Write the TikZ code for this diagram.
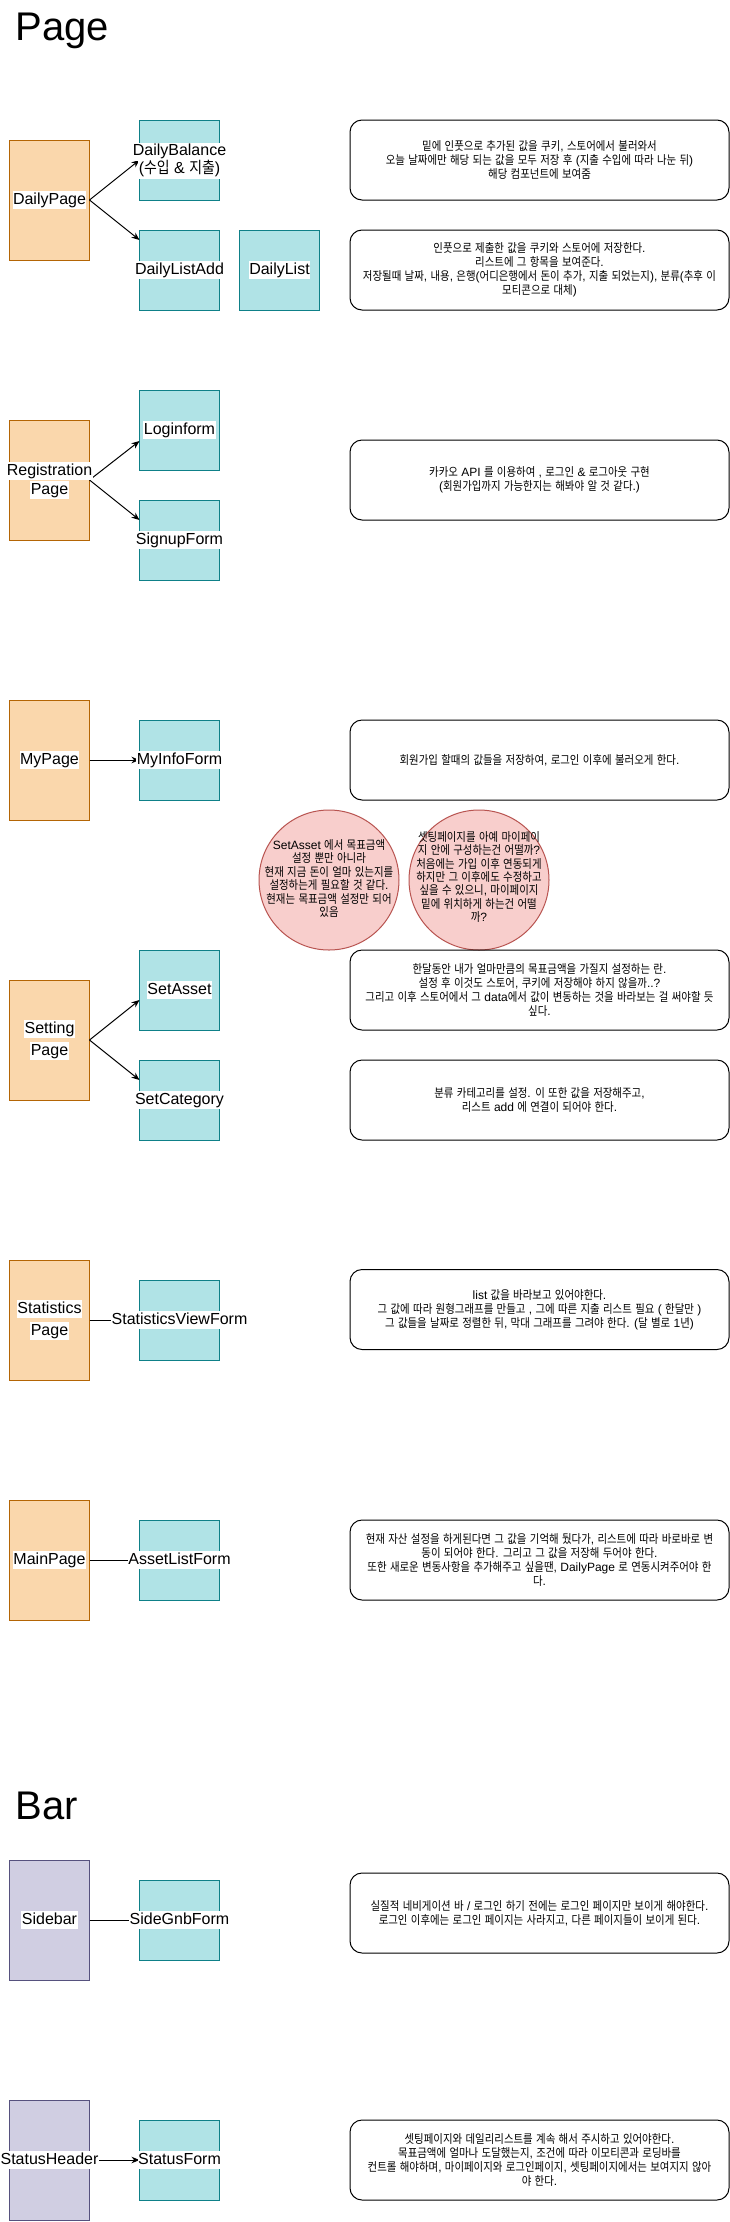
\documentclass[tikz,border=0pt]{standalone}
\usepackage{fontspec}
\setmainfont{Liberation Sans}
\newfontfamily\kr[FakeStretch=0.87]{Noto Sans CJK KR}
\usetikzlibrary{arrows.meta,shapes.geometric}
\XeTeXinterchartokenstate=1
\newXeTeXintercharclass\hangulclass
\newcount\hgc
\hgc="AC00
\loop
  \XeTeXcharclass\hgc=\hangulclass
  \advance\hgc by 1
\ifnum\hgc<"D7A4 \repeat
\XeTeXinterchartoks 0 \hangulclass={\kr}
\XeTeXinterchartoks 4095 \hangulclass={\kr}
\XeTeXinterchartoks \hangulclass 0={\normalfont}
\XeTeXinterchartoks \hangulclass 4095={\normalfont}
\definecolor{pgF}{HTML}{FAD7AC}
\definecolor{pgD}{HTML}{B46504}
\definecolor{cmpF}{HTML}{B0E3E6}
\definecolor{cmpD}{HTML}{0E8088}
\definecolor{barF}{HTML}{D0CEE2}
\definecolor{barD}{HTML}{56517E}
\definecolor{ellF}{HTML}{F8CECC}
\definecolor{ellD}{HTML}{B85450}
\begin{document}
\begin{tikzpicture}[x=1pt,y=-1pt,
  every node/.style={inner sep=0pt, outer sep=0pt},
  pgbox/.style={draw=pgD, fill=pgF, line width=1pt, minimum width=80pt, minimum height=120pt},
  barbox/.style={draw=barD, fill=barF, line width=1pt, minimum width=80pt, minimum height=120pt},
  cmpbox/.style={draw=cmpD, fill=cmpF, line width=1pt, minimum width=80pt, minimum height=80pt},
  notebox/.style={draw=black, line width=1pt, rounded corners=12pt, minimum width=379pt, minimum height=80pt},
  idea/.style={ellipse, draw=ellD, fill=ellF, line width=1pt, minimum width=140pt, minimum height=140pt},
  lab/.style={fill=white, inner xsep=0.5pt, inner ysep=1pt, text height=12pt, text depth=4pt, font=\fontsize{16}{19}\selectfont},
  notetext/.style={align=center, font=\fontsize{12}{14}\selectfont},
  ideatext/.style={align=center, font=\fontsize{12}{13.4}\selectfont},
  ttl/.style={anchor=base west, font=\fontsize{40}{48}\selectfont},
  conn/.style={draw=black, line width=1pt},
  arr/.style={conn, -{Stealth[length=8pt,width=6.5pt]}},
]
\fill[white] (0,0) rectangle (730,2222);
\useasboundingbox (0,0) rectangle (730,2222);

% titles
\node[ttl] (pageT) at (15.5,40) {Page};
\node[ttl] (barT) at (15.5,1819) {Bar};

% ---------- boxes ----------
\node[pgbox] (dp) at (49.5,200) {};
\node[cmpbox] (db) at (179.5,160) {};
\node[cmpbox] (dla) at (179.5,270) {};
\node[cmpbox] (dl) at (279.5,270) {};
\node[notebox] (n1) at (539.5,160) {};
\node[notebox] (n2) at (539.5,270) {};

\node[pgbox] (rp) at (49.5,480) {};
\node[cmpbox] (lf) at (179.5,430) {};
\node[cmpbox] (sf) at (179.5,540) {};
\node[notebox] (n3) at (539.5,480) {};

\node[pgbox] (mp) at (49.5,760) {};
\node[cmpbox] (mif) at (179.5,760) {};
\node[notebox] (n4) at (539.5,760) {};

\node[idea] (e1) at (329,880) {};
\node[idea] (e2) at (479,880) {};

\node[pgbox] (sp) at (49.5,1040) {};
\node[cmpbox] (sa) at (179.5,990) {};
\node[cmpbox] (sc) at (179.5,1100) {};
\node[notebox] (n5) at (539.5,990) {};
\node[notebox] (n6) at (539.5,1100) {};

\node[pgbox] (stp) at (49.5,1320) {};
\node[cmpbox] (svf) at (179.5,1320) {};
\node[notebox] (n7) at (539.5,1309.5) {};

\node[pgbox] (mnp) at (49.5,1560) {};
\node[cmpbox] (alf) at (179.5,1560) {};
\node[notebox] (n8) at (539.5,1560) {};

\node[barbox] (sb) at (49.5,1920) {};
\node[cmpbox] (sgf) at (179.5,1920) {};
\node[notebox] (n9) at (539.5,1913) {};

\node[barbox] (sh) at (49.5,2160) {};
\node[cmpbox] (stf) at (179.5,2160) {};
\node[notebox] (n10) at (539.5,2160) {};

% ---------- connectors ----------
\draw[arr] (dp.east) -- (db.west);
\draw[arr] (dp.east) -- ([yshift=30pt]dla.west);
\draw[arr] (rp.east) -- ([yshift=-11pt]lf.west);
\draw[arr] (rp.east) -- ([yshift=20pt]sf.west);
\draw[arr] (mp.east) -- (mif.west);
\draw[arr] (sp.east) -- ([yshift=-10pt]sa.west);
\draw[arr] (sp.east) -- ([yshift=20pt]sc.west);
\draw[conn] (stp.east) -- (svf.west);
\draw[conn] (mnp.east) -- (alf.west);
\draw[conn] (sb.east) -- (sgf.west);
\draw[arr] (sh.east) -- (stf.west);

% ---------- labels ----------
\node[lab] (dpL) at (49.5,200) {DailyPage};
\node[lab] (dbL1) at (179.5,151.5) {DailyBalance};
\node[lab] (dbL2) at (179.5,169.5) {(수입 \& 지출)};
\node[lab] (dlaL) at (179.5,270) {DailyListAdd};
\node[lab] (dlL) at (279.5,270) {DailyList};

\node[lab] (rpL1) at (49.5,471) {Registration};
\node[lab] (rpL2) at (49.5,490) {Page};
\node[lab] (lfL) at (179.5,430) {Loginform};
\node[lab] (sfL) at (179.5,540) {SignupForm};

\node[lab] (mpL) at (49.5,760) {MyPage};
\node[lab] (mifL) at (179.5,760) {MyInfoForm};

\node[lab] (spL1) at (49.5,1029) {Setting};
\node[lab] (spL2) at (49.5,1051) {Page};
\node[lab] (saL) at (179.5,990) {SetAsset};
\node[lab] (scL) at (179.5,1100) {SetCategory};

\node[lab] (stpL1) at (49.5,1309) {Statistics};
\node[lab] (stpL2) at (49.5,1331) {Page};
\node[lab] (svfL) at (179.5,1320) {StatisticsViewForm};

\node[lab] (mnpL) at (49.5,1560) {MainPage};
\node[lab] (alfL) at (179.5,1560) {AssetListForm};

\node[lab] (sbL) at (49.5,1920) {Sidebar};
\node[lab] (sgfL) at (179.5,1920) {SideGnbForm};

\node[lab] (shL) at (49.5,2160) {StatusHeader};
\node[lab] (stfL) at (179.5,2160) {StatusForm};

% ---------- note texts ----------
\node[notetext] (t1) at (n1) {밑에 인풋으로 추가된 값을 쿠키, 스토어에서 불러와서\\오늘 날짜에만 해당 되는 값을 모두 저장 후 (지출 수입에 따라 나눈 뒤)\\해당 컴포넌트에 보여줌};
\node[notetext] (t2) at (n2) {인풋으로 제출한 값을 쿠키와 스토어에 저장한다.\\리스트에 그 항목을 보여준다.\\저장될때 날짜, 내용, 은행(어디은행에서 돈이 추가, 지출 되었는지), 분류(추후 이\\모티콘으로 대체)};
\node[notetext] (t3) at (n3) {카카오 API 를 이용하여 , 로그인 \& 로그아웃 구현\\(회원가입까지 가능한지는 해봐야 알 것 같다.)};
\node[notetext] (t4) at (n4) {회원가입 할때의 값들을 저장하여, 로그인 이후에 불러오게 한다.};
\node[notetext] (t5) at (n5) {한달동안 내가 얼마만큼의 목표금액을 가질지 설정하는 란.\\설정 후 이것도 스토어, 쿠키에 저장해야 하지 않을까..?\\그리고 이후 스토어에서 그 data에서 값이 변동하는 것을 바라보는 걸 써야할 듯\\싶다.};
\node[notetext] (t6) at (n6) {분류 카테고리를 설정. 이 또한 값을 저장해주고,\\리스트 add 에 연결이 되어야 한다.};
\node[notetext] (t7) at (n7) {list 값을 바라보고 있어야한다.\\그 값에 따라 원형그래프를 만들고 , 그에 따른 지출 리스트 필요 ( 한달만 )\\그 값들을 날짜로 정렬한 뒤, 막대 그래프를 그려야 한다. (달 별로 1년)};
\node[notetext] (t8) at (n8) {현재 자산 설정을 하게된다면 그 값을 기억해 뒀다가, 리스트에 따라 바로바로 변\\동이 되어야 한다. 그리고 그 값을 저장해 두어야 한다.\\또한 새로운 변동사항을 추가해주고 싶을땐, DailyPage 로 연동시켜주어야 한\\다.};
\node[notetext] (t9) at (n9) {실질적 네비게이션 바 / 로그인 하기 전에는 로그인 페이지만 보이게 해야한다.\\로그인 이후에는 로그인 페이지는 사라지고, 다른 페이지들이 보이게 된다.};
\node[notetext] (t10) at (n10) {셋팅페이지와 데일리리스트를 계속 해서 주시하고 있어야한다.\\목표금액에 얼마나 도달했는지, 조건에 따라 이모티콘과 로딩바를\\컨트롤 해야하며, 마이페이지와 로그인페이지, 셋팅페이지에서는 보여지지 않아\\야 한다.};

% ---------- idea texts ----------
\node[ideatext] (et1) at (329,878.5) {SetAsset 에서 목표금액\\설정 뿐만 아니라\\현재 지금 돈이 얼마 있는지를\\설정하는게 필요할 것 같다.\\현재는 목표금액 설정만 되어\\있음};
\node[ideatext] (et2) at (479,877) {셋팅페이지를 아예 마이페이\\지 안에 구성하는건 어떨까?\\처음에는 가입 이후 연동되게\\하지만 그 이후에도 수정하고\\싶을 수 있으니, 마이페이지\\밑에 위치하게 하는건 어떨\\까?};
\end{tikzpicture}
\end{document}
